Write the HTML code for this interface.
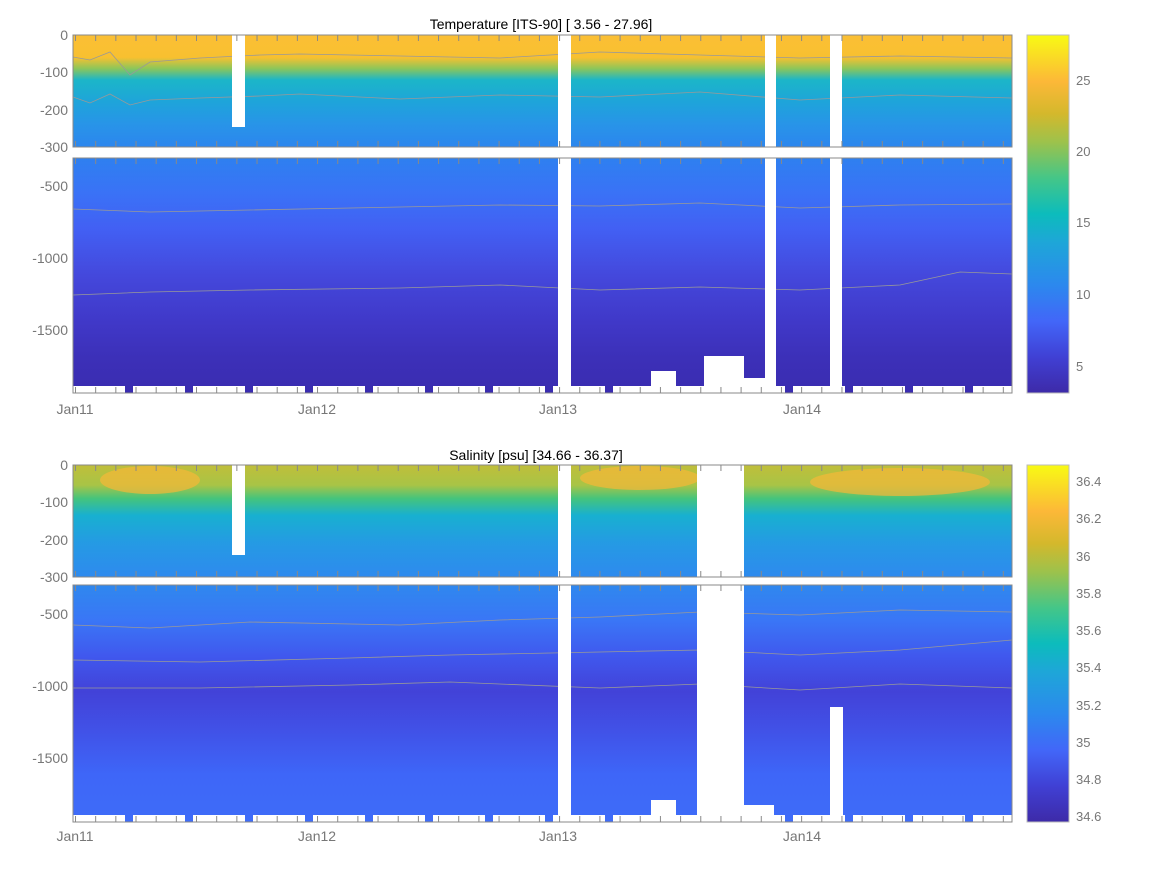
<!DOCTYPE html><html><head><style>body{margin:0;background:#fff}svg{display:block}text{font-family:"Liberation Sans",sans-serif}</style></head><body>
<svg width="1167" height="875" viewBox="0 0 1167 875">
<defs>
<linearGradient id="tu" x1="0" y1="0" x2="0" y2="1">
<stop offset="0" stop-color="#fbbf35"/><stop offset="0.2" stop-color="#f8c030"/><stop offset="0.3" stop-color="#8cc65a"/><stop offset="0.4" stop-color="#1cb6c8"/><stop offset="0.6" stop-color="#1ea4da"/><stop offset="0.8" stop-color="#2894e8"/><stop offset="1" stop-color="#2c86ee"/></linearGradient>
<linearGradient id="tl" x1="0" y1="0" x2="0" y2="1">
<stop offset="0" stop-color="#2e80f0"/><stop offset="0.15" stop-color="#3a72f6"/><stop offset="0.3" stop-color="#4260f4"/><stop offset="0.5" stop-color="#4448dc"/><stop offset="0.7" stop-color="#4038c8"/><stop offset="0.85" stop-color="#3c30b8"/><stop offset="1" stop-color="#3a2cb0"/></linearGradient>
<linearGradient id="su" x1="0" y1="0" x2="0" y2="1">
<stop offset="0" stop-color="#c0be3a"/><stop offset="0.18" stop-color="#a8c446"/><stop offset="0.3" stop-color="#44c47c"/><stop offset="0.45" stop-color="#18b0d0"/><stop offset="0.7" stop-color="#259ae4"/><stop offset="1" stop-color="#2e8aee"/></linearGradient>
<linearGradient id="sl" x1="0" y1="0" x2="0" y2="1">
<stop offset="0" stop-color="#2f88ee"/><stop offset="0.15" stop-color="#3a76f6"/><stop offset="0.3" stop-color="#4058ee"/><stop offset="0.45" stop-color="#4242d8"/><stop offset="0.6" stop-color="#4150e6"/><stop offset="0.8" stop-color="#3e66f8"/><stop offset="1" stop-color="#3e6cf8"/></linearGradient>
<linearGradient id="cb" x1="0" y1="1" x2="0" y2="0">
<stop offset="0" stop-color="#3d2aa8"/><stop offset="0.1" stop-color="#4040d4"/><stop offset="0.2" stop-color="#4266f8"/><stop offset="0.3" stop-color="#2c88ee"/><stop offset="0.42" stop-color="#1ea6d8"/><stop offset="0.5" stop-color="#0cbcbc"/><stop offset="0.6" stop-color="#44c688"/><stop offset="0.7" stop-color="#9cc24c"/><stop offset="0.78" stop-color="#d4b82c"/><stop offset="0.87" stop-color="#fcb838"/><stop offset="1" stop-color="#f8fa14"/></linearGradient>
<pattern id="tk" x="75" y="0" width="20.17" height="10" patternUnits="userSpaceOnUse"><rect x="0" y="0" width="1" height="10" fill="#888"/></pattern>
<pattern id="nt" x="73" y="0" width="60" height="10" patternUnits="userSpaceOnUse"><rect x="0" y="0" width="52" height="10" fill="#fff"/></pattern>
</defs>
<!-- TOP -->
<rect x="73" y="35" width="939" height="112" fill="url(#tu)"/>
<rect x="73" y="158" width="939" height="235" fill="url(#tl)"/>
<polyline fill="none" stroke="#999" stroke-width="0.8" points="73,57 90,60 110,52 130,75 150,62 200,58 260,55 300,54 400,56 500,58 600,52 700,55 800,58 900,56 1012,58"/>
<polyline fill="none" stroke="#999" stroke-width="0.8" points="73,97 90,103 110,94 130,105 150,100 200,98 260,96 300,94 400,99 500,95 600,97 700,92 800,100 900,95 1012,98"/>
<polyline fill="none" stroke="#999" stroke-width="0.8" points="73,209 150,212 250,210 400,207 500,205 600,206 700,203 800,208 900,205 1012,204"/>
<polyline fill="none" stroke="#999" stroke-width="0.8" points="73,295 150,292 250,290 400,288 500,285 600,290 700,287 800,290 900,285 960,272 1012,274"/>
<rect x="73" y="386" width="939" height="7" fill="url(#nt)"/>
<g fill="#fff">
<rect x="232" y="35" width="13" height="92"/>
<rect x="558" y="35" width="13" height="358"/>
<rect x="765" y="35" width="11" height="358"/>
<rect x="830" y="35" width="12" height="358"/>
<rect x="651" y="371" width="25" height="22"/>
<rect x="704" y="356" width="40" height="37"/>
<rect x="744" y="378" width="21" height="15"/>
</g>
<rect x="73" y="35" width="939" height="6" fill="url(#tk)"/><rect x="73" y="141" width="939" height="6" fill="url(#tk)"/>
<rect x="73" y="158" width="939" height="6" fill="url(#tk)"/><rect x="73" y="387" width="939" height="6" fill="url(#tk)"/>
<rect x="73" y="35" width="939" height="112" fill="none" stroke="#888"/>
<rect x="73" y="158" width="939" height="235" fill="none" stroke="#888"/>
<rect x="1027" y="35" width="42" height="358" fill="url(#cb)" stroke="#bbb"/>
<!-- BOTTOM -->
<rect x="73" y="465" width="939" height="112" fill="url(#su)"/>
<rect x="73" y="585" width="939" height="237" fill="url(#sl)"/>
<ellipse cx="150" cy="480" rx="50" ry="14" fill="#f6b838" opacity="0.7"/>
<ellipse cx="640" cy="478" rx="60" ry="12" fill="#f6b838" opacity="0.7"/>
<ellipse cx="900" cy="482" rx="90" ry="14" fill="#f6b838" opacity="0.7"/>
<polyline fill="none" stroke="#999" stroke-width="0.8" points="73,625 150,628 250,622 400,625 500,620 600,617 700,612 800,615 900,610 1012,612"/>
<polyline fill="none" stroke="#999" stroke-width="0.8" points="73,660 200,662 350,658 450,655 600,652 700,650 800,655 900,650 1012,640"/>
<polyline fill="none" stroke="#999" stroke-width="0.8" points="73,688 200,688 350,685 450,682 600,688 700,684 800,690 900,684 1012,688"/>
<rect x="73" y="815" width="939" height="7" fill="url(#nt)"/>
<g fill="#fff">
<rect x="232" y="465" width="13" height="90"/>
<rect x="558" y="465" width="13" height="357"/>
<rect x="697" y="465" width="47" height="357"/>
<rect x="830" y="707" width="13" height="115"/>
<rect x="651" y="800" width="25" height="22"/>
<rect x="744" y="805" width="30" height="17"/>
</g>
<rect x="73" y="465" width="939" height="6" fill="url(#tk)"/><rect x="73" y="571" width="939" height="6" fill="url(#tk)"/>
<rect x="73" y="585" width="939" height="6" fill="url(#tk)"/><rect x="73" y="816" width="939" height="6" fill="url(#tk)"/>
<rect x="73" y="465" width="939" height="112" fill="none" stroke="#888"/>
<rect x="73" y="585" width="939" height="237" fill="none" stroke="#888"/>
<rect x="1027" y="465" width="42" height="357" fill="url(#cb)" stroke="#bbb"/>
<!-- labels -->
<g font-size="14" fill="#000" text-anchor="middle">
<text x="541" y="29">Temperature [ITS-90]   [ 3.56 - 27.96]</text>
<text x="536" y="460">Salinity [psu]   [34.66 - 36.37]</text>
</g>
<g font-size="14" fill="#777" text-anchor="end">
<text x="68" y="40">0</text><text x="68" y="77">-100</text><text x="68" y="115">-200</text><text x="68" y="152">-300</text>
<text x="68" y="191">-500</text><text x="68" y="263">-1000</text><text x="68" y="335">-1500</text>
<text x="68" y="470">0</text><text x="68" y="507">-100</text><text x="68" y="545">-200</text><text x="68" y="582">-300</text>
<text x="68" y="619">-500</text><text x="68" y="691">-1000</text><text x="68" y="763">-1500</text>
</g>
<g font-size="14" fill="#777" text-anchor="middle">
<text x="75" y="414">Jan11</text><text x="317" y="414">Jan12</text><text x="558" y="414">Jan13</text><text x="802" y="414">Jan14</text>
<text x="75" y="841">Jan11</text><text x="317" y="841">Jan12</text><text x="558" y="841">Jan13</text><text x="802" y="841">Jan14</text>
</g>
<g font-size="13" fill="#777">
<text x="1076" y="85">25</text><text x="1076" y="156">20</text><text x="1076" y="227">15</text><text x="1076" y="299">10</text><text x="1076" y="371">5</text>
<text x="1076" y="486">36.4</text><text x="1076" y="523">36.2</text><text x="1076" y="561">36</text><text x="1076" y="598">35.8</text><text x="1076" y="635">35.6</text><text x="1076" y="672">35.4</text><text x="1076" y="710">35.2</text><text x="1076" y="747">35</text><text x="1076" y="784">34.8</text><text x="1076" y="821">34.6</text>
</g>
</svg></body></html>
